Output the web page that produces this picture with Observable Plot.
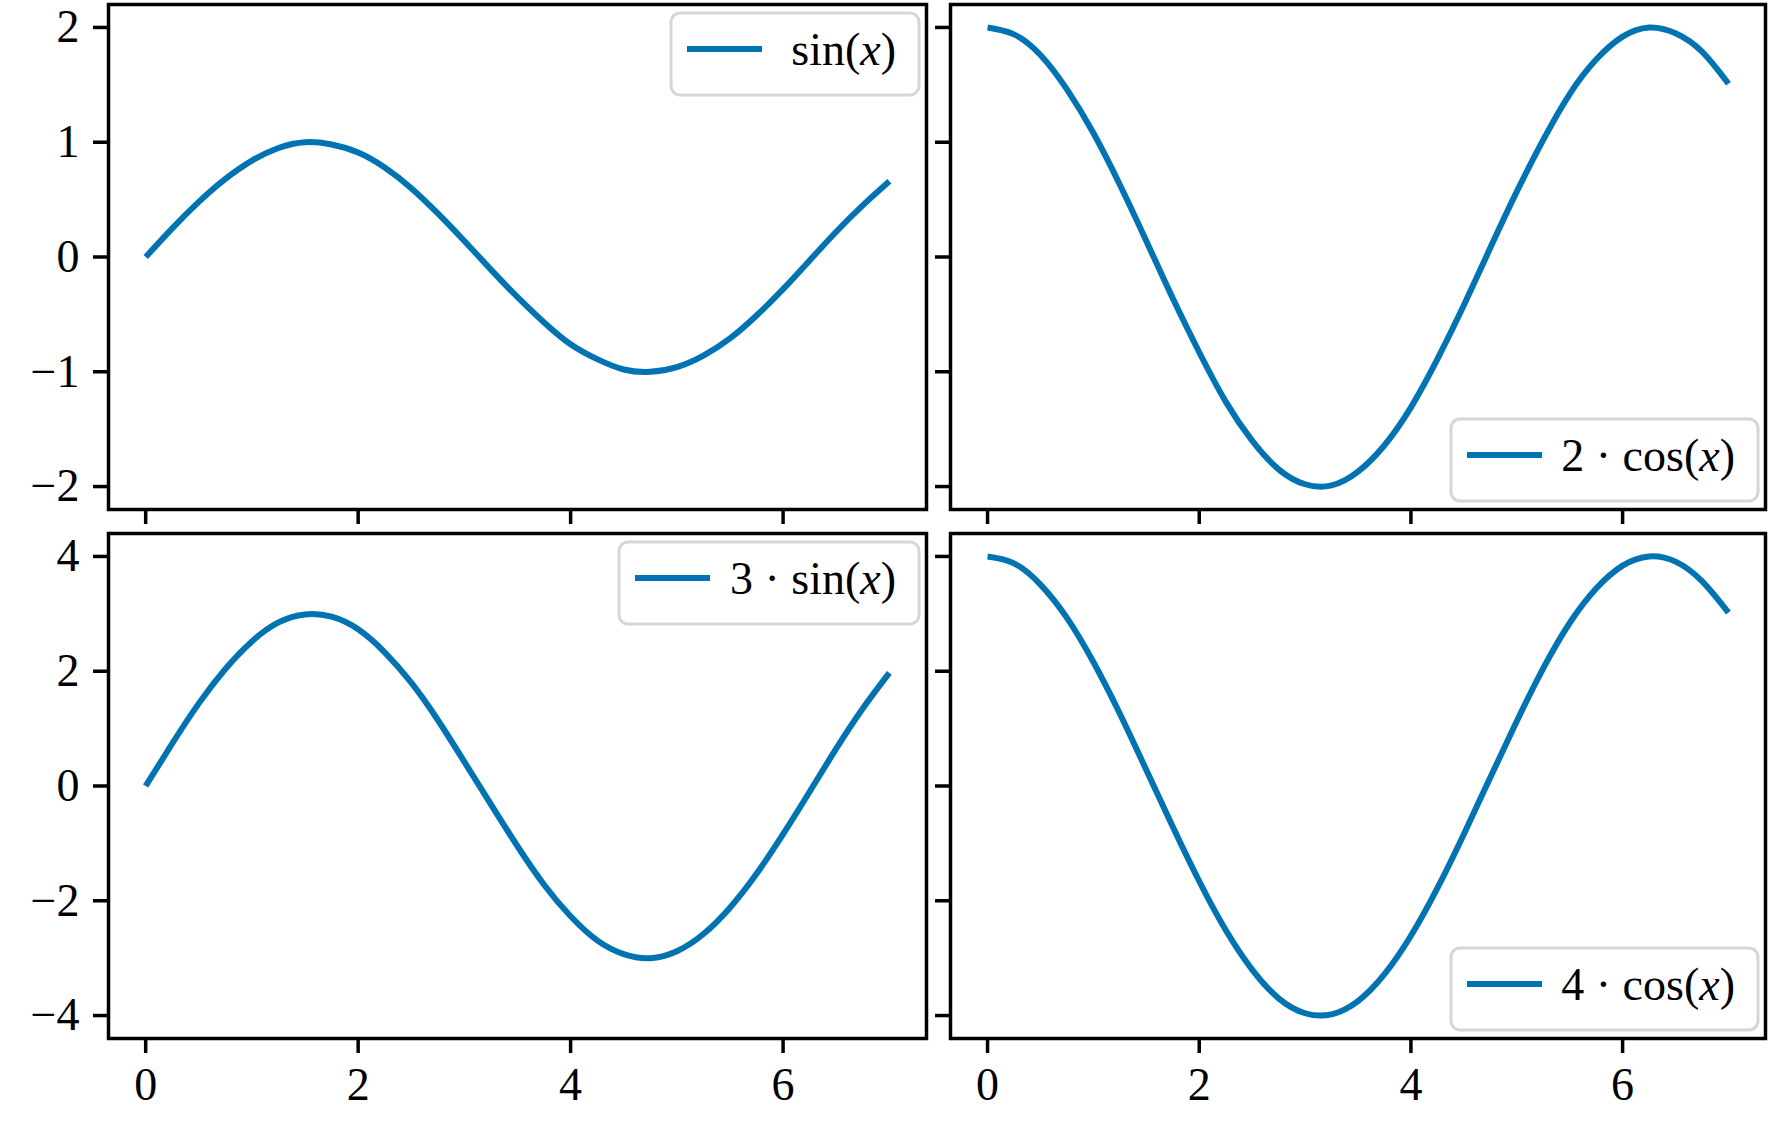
<!DOCTYPE html>
<html>
<head>
<meta charset="utf-8">
<script src="https://cdn.jsdelivr.net/npm/d3@7"></script>
<script src="https://cdn.jsdelivr.net/npm/@observablehq/plot@0.6"></script>
<style>
  html, body { margin: 0; padding: 0; background: #ffffff; }
  #chart { position: relative; width: 1772px; height: 1122px; background: #ffffff; }
  #chart svg { position: absolute; left: 0; top: 0; overflow: visible; }
</style>
</head>
<body>
<div id="chart"></div>
<script>
// ---- data ----
const xValues   = [0, 0.25, 0.5, 0.75, 1, 1.25, 1.5, 1.75, 2, 2.25, 2.5, 2.75, 3, 3.25, 3.5, 3.75, 4, 4.25, 4.5, 4.75, 5, 5.25, 5.5, 5.75, 6, 6.25, 6.5, 6.75, 7];
const sinY      = [0, 0.25, 0.48, 0.68, 0.84, 0.95, 1.00, 0.98, 0.91, 0.78, 0.60, 0.38, 0.14, -0.11, -0.35, -0.57, -0.76, -0.89, -0.98, -1.00, -0.96, -0.86, -0.71, -0.51, -0.28, -0.03, 0.22, 0.45, 0.66];
const twoCosY   = [2.00, 1.94, 1.76, 1.46, 1.08, 0.63, 0.14, -0.36, -0.83, -1.26, -1.60, -1.85, -1.98, -1.99, -1.87, -1.64, -1.31, -0.89, -0.42, 0.08, 0.57, 1.02, 1.42, 1.72, 1.92, 2.00, 1.95, 1.79, 1.51];
const threeSinY = [0, 0.74, 1.44, 2.04, 2.52, 2.85, 2.99, 2.95, 2.73, 2.33, 1.80, 1.15, 0.42, -0.32, -1.05, -1.72, -2.27, -2.69, -2.93, -3.00, -2.88, -2.58, -2.12, -1.53, -0.84, -0.10, 0.65, 1.35, 1.97];
const fourCosY  = [4.00, 3.88, 3.51, 2.93, 2.16, 1.26, 0.28, -0.71, -1.66, -2.51, -3.20, -3.70, -3.96, -3.98, -3.75, -3.28, -2.61, -1.78, -0.84, 0.15, 1.13, 2.05, 2.84, 3.44, 3.84, 4.00, 3.91, 3.57, 3.02];

const xTicks       = [0, 2, 4, 6];
const topYTicks    = [-2, -1, 0, 1, 2];
const bottomYTicks = [-4, -2, 0, 2, 4];

const legendCoefs = ["", "2", "3", "4"];
const legendFuncs = ["sin", "cos", "sin", "cos"];
const legendVar   = "x";

// ---- layout / style ----
const W = 1772, H = 1122;
const FONT = "'Liberation Serif', 'DejaVu Serif', serif";
const FONT_SIZE = 46;
const BLUE = "#0173b2";
const X_DOMAIN = [-0.35, 7.35];

const layout = [
  {series: sinY,      left: 108, right: 926,  top: 4,   bottom: 509,  yDomain: [-2.2, 2.2], yTicks: topYTicks,    xLabels: false, yLabels: true,  legendPos: "top",    legendW: 248},
  {series: twoCosY,   left: 950, right: 1765, top: 4,   bottom: 509,  yDomain: [-2.2, 2.2], yTicks: topYTicks,    xLabels: false, yLabels: false, legendPos: "bottom", legendW: 307},
  {series: threeSinY, left: 108, right: 926,  top: 533, bottom: 1038, yDomain: [-4.4, 4.4], yTicks: bottomYTicks, xLabels: true,  yLabels: true,  legendPos: "top",    legendW: 300},
  {series: fourCosY,  left: 950, right: 1765, top: 533, bottom: 1038, yDomain: [-4.4, 4.4], yTicks: bottomYTicks, xLabels: true,  yLabels: false, legendPos: "bottom", legendW: 307}
];

const container = document.getElementById("chart");
const fmt = d3.format("d");
const blank = () => "";

layout.forEach((p, i) => {
  const data = xValues.map((x, k) => ({x, y: p.series[k]}));
  const svg = Plot.plot({
    width: W,
    height: H,
    marginLeft: p.left,
    marginRight: W - p.right,
    marginTop: p.top,
    marginBottom: H - p.bottom,
    style: {background: "transparent", fontFamily: FONT, fontSize: FONT_SIZE + "px", color: "black", overflow: "visible"},
    x: {domain: X_DOMAIN},
    y: {domain: p.yDomain},
    marks: [
      Plot.line(data, {x: "x", y: "y", stroke: BLUE, strokeWidth: 6, curve: "natural", strokeLinecap: "butt"}),
      Plot.frame({stroke: "black", strokeWidth: 3.5}),
      Plot.axisX({ticks: xTicks, tickSize: 15, tickPadding: 14, strokeWidth: 3.5, label: null,
                  tickFormat: p.xLabels ? fmt : blank, fill: "black"}),
      Plot.axisY({ticks: p.yTicks, tickSize: 15, tickPadding: 14, strokeWidth: 3.5, label: null,
                  tickFormat: p.yLabels ? fmt : blank, fill: "black"})
    ]
  });
  container.appendChild(svg);

  // legend (matplotlib-style, inside the axes)
  const boxH = 82;
  const boxRight = p.right - 7;
  const boxLeft = boxRight - p.legendW;
  const boxTop = p.legendPos === "top" ? p.top + 9 : p.bottom - 8 - boxH;
  const g = d3.select(svg).append("g").attr("class", "legend");
  g.append("rect")
    .attr("x", boxLeft).attr("y", boxTop)
    .attr("width", p.legendW).attr("height", boxH)
    .attr("rx", 9).attr("ry", 9)
    .attr("fill", "rgba(255,255,255,0.8)")
    .attr("stroke", "#d6d6d6").attr("stroke-width", 3);
  g.append("line")
    .attr("x1", boxLeft + 16).attr("x2", boxLeft + 91)
    .attr("y1", boxTop + 36).attr("y2", boxTop + 36)
    .attr("stroke", BLUE).attr("stroke-width", 6);
  const t = g.append("text")
    .attr("x", boxRight - 23).attr("y", boxTop + 52)
    .attr("text-anchor", "end")
    .attr("font-family", FONT).attr("font-size", FONT_SIZE)
    .attr("fill", "black");
  const prefix = (legendCoefs[i] ? legendCoefs[i] + " \u00b7 " : "") + legendFuncs[i] + "(";
  t.append("tspan").text(prefix);
  t.append("tspan").attr("font-style", "italic").text(legendVar);
  t.append("tspan").text(")");
});
</script>
</body>
</html>
